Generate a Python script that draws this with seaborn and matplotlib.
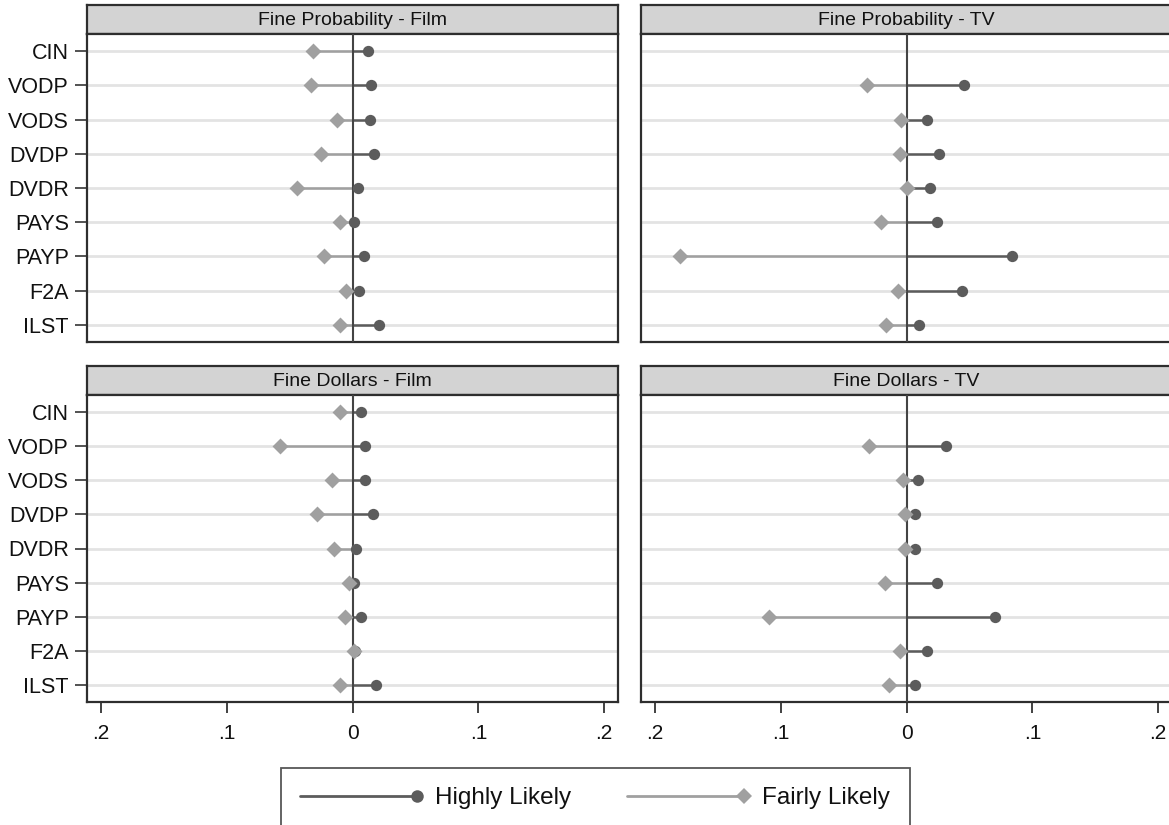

# Dot plot of fine effects: Highly Likely vs Fairly Likely, by channel
# four panels (Fine Probability / Fine Dollars x Film / TV)

import numpy as np
import pandas as pd
import matplotlib.pyplot as plt
import seaborn as sns
from matplotlib.lines import Line2D
from matplotlib.legend_handler import HandlerLine2D

# Channels, top to bottom
CATEGORIES = ['CIN', 'VODP', 'VODS', 'DVDP', 'DVDR', 'PAYS', 'PAYP', 'F2A', 'ILST']

# Values (nan = not shown)
prob_film_high = [0.012, 0.015, 0.014, 0.017, 0.004, 0.001, 0.009, 0.005, 0.021]
prob_film_fair = [-0.031, -0.033, -0.012, -0.025, -0.044, -0.010, -0.023, -0.005, -0.010]
prob_tv_high   = [np.nan, 0.046, 0.016, 0.026, 0.019, 0.024, 0.084, 0.044, 0.010]
prob_tv_fair   = [np.nan, -0.031, -0.004, -0.005, 0.000, -0.020, -0.180, -0.007, -0.016]
dollars_film_high = [0.007, 0.010, 0.010, 0.016, 0.003, 0.001, 0.007, 0.002, 0.019]
dollars_film_fair = [-0.010, -0.058, -0.016, -0.028, -0.015, -0.003, -0.006, 0.001, -0.010]
dollars_tv_high   = [np.nan, 0.031, 0.009, 0.007, 0.007, 0.024, 0.070, 0.016, 0.007]
dollars_tv_fair   = [np.nan, -0.030, -0.003, -0.001, -0.001, -0.017, -0.109, -0.005, -0.014]

PANEL_TITLES = ['Fine Probability - Film', 'Fine Probability - TV',
                'Fine Dollars - Film', 'Fine Dollars - TV']
SERIES_NAMES = ['Highly Likely', 'Fairly Likely']
X_TICKS = [-0.2, -0.1, 0, 0.1, 0.2]
X_TICK_LABELS = ['.2', '.1', '0', '.1', '.2']

# Long table, one row per panel / series / channel
panel_values = [
    (prob_film_high, prob_film_fair),
    (prob_tv_high, prob_tv_fair),
    (dollars_film_high, dollars_film_fair),
    (dollars_tv_high, dollars_tv_fair),
]
rows = []
for title, (high, fair) in zip(PANEL_TITLES, panel_values):
    for name, vals in zip(SERIES_NAMES, (high, fair)):
        for pos, (cat, v) in enumerate(zip(CATEGORIES, vals)):
            rows.append({'panel': title, 'series': name, 'channel': cat,
                         'pos': pos, 'value': v})
df = pd.DataFrame(rows)

# Styling
sns.set_style('white')
plt.rcParams['font.family'] = ['Liberation Sans', 'DejaVu Sans']
plt.rcParams['text.color'] = '#111111'
plt.rcParams['xtick.labelcolor'] = '#111111'
plt.rcParams['ytick.labelcolor'] = '#111111'

DARK  = '#5c5c5c'
LIGHT = '#a0a0a0'
FRAME = '#2e2e2e'
GRID  = '#e3e3e3'
STYLE = {'Highly Likely': dict(color=DARK, marker='o', size=66),
         'Fairly Likely': dict(color=LIGHT, marker='D', size=66)}

W, H = 1169, 825
fig = plt.figure(figsize=(W / 100, H / 100), dpi=100)

def px_rect(x0, y0, x1, y1):
    # pixel box (top-left origin) -> figure fraction rect
    return [x0 / W, 1 - y1 / H, (x1 - x0) / W, (y1 - y0) / H]

# panel boxes in pixels: (left, right, header top, plot top, plot bottom)
boxes = [(87, 618, 5, 34, 342), (641, 1172, 5, 34, 342),
         (87, 618, 366, 395, 702), (641, 1172, 366, 395, 702)]

for i, (title, (x0, x1, ht, pt, pb)) in enumerate(zip(PANEL_TITLES, boxes)):
    # header strip
    hax = fig.add_axes(px_rect(x0, ht, x1, pt))
    hax.set_facecolor('#d3d3d3')
    hax.set_xticks([]); hax.set_yticks([])
    for s in hax.spines.values():
        s.set_color(FRAME); s.set_linewidth(1.6)
    hax.text(0.5, 0.45, title, ha='center', va='center', fontsize=14,
             transform=hax.transAxes)

    ax = fig.add_axes(px_rect(x0, pt, x1, pb))
    sub = df[df['panel'] == title]

    # spikes from zero to each value
    for name in SERIES_NAMES:
        s = sub[sub['series'] == name]
        ax.hlines(s['pos'], 0, s['value'], color=STYLE[name]['color'],
                  lw=1.8, zorder=3)
    ax.axvline(0, color='#444444', lw=1.5, zorder=4)
    for name in SERIES_NAMES:
        s = sub[sub['series'] == name]
        sns.scatterplot(data=s, x='value', y='pos', ax=ax,
                        color=STYLE[name]['color'], marker=STYLE[name]['marker'],
                        s=STYLE[name]['size'], linewidth=0, zorder=5,
                        legend=False)

    ax.set_xlim(-0.211, 0.211)
    ax.set_ylim(len(CATEGORIES) - 0.5, -0.5)
    ax.set_xlabel(''); ax.set_ylabel('')
    ax.set_yticks(range(len(CATEGORIES)))
    ax.yaxis.grid(True, color=GRID, lw=2, zorder=0)
    ax.set_axisbelow(True)
    for s in ax.spines.values():
        s.set_color(FRAME); s.set_linewidth(1.6); s.set_zorder(1)

    left = (i % 2 == 0)
    bottom = (i >= 2)
    if left:
        ax.set_yticklabels(CATEGORIES, fontsize=15.5)
        ax.tick_params(axis='y', left=True, length=9, width=1.3,
                       color='#444444', pad=4)
    else:
        ax.set_yticklabels([])
        ax.tick_params(axis='y', left=False)
    ax.set_xticks(X_TICKS)
    if bottom:
        ax.set_xticklabels(X_TICK_LABELS, fontsize=15)
        ax.tick_params(axis='x', bottom=True, length=8, width=1.3,
                       color='#333333', pad=8)
    else:
        ax.set_xticklabels([])
        ax.tick_params(axis='x', bottom=False)


# Legend: line with the marker at its right end (Stata look)
class EndMarkerHandler(HandlerLine2D):
    def create_artists(self, *args, **kwargs):
        artists = super().create_artists(*args, **kwargs)
        for a in artists:
            a.set_markevery([len(a.get_xdata()) - 1])
        return artists

handles = [Line2D([], [], color=STYLE[n]['color'], lw=2, marker=STYLE[n]['marker'],
                  markersize=9 if n == 'Highly Likely' else 8,
                  markeredgewidth=0) for n in SERIES_NAMES]
leg = fig.legend(handles, SERIES_NAMES, loc='upper left',
                 bbox_to_anchor=(281 / W, 1 - 768 / H), ncol=2,
                 fontsize=17.5, frameon=True, fancybox=False,
                 handlelength=4.8, handletextpad=0.75, columnspacing=2.3,
                 borderpad=0.8, borderaxespad=0,
                 handler_map={Line2D: EndMarkerHandler()})
leg.get_frame().set_edgecolor(FRAME)
leg.get_frame().set_linewidth(1.3)

plt.savefig('out.png', dpi=100)
print("Saved: out.png")
